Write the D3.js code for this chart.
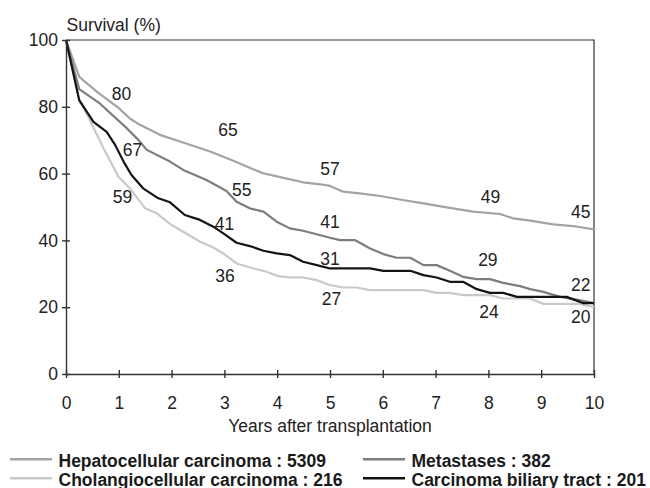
<!DOCTYPE html>
<html>
<head>
<meta charset="utf-8">
<script src="https://cdn.jsdelivr.net/npm/d3@7"></script>
<style>
  body { margin: 0; background: #fff; }
  svg { display: block; font-family: "Liberation Sans", Arial, sans-serif; }
  .axis text { font-size: 17.5px; fill: #222; }
  .axis path, .axis line { stroke: #333; stroke-width: 1.4; }
</style>
</head>
<body>
<svg id="chart" width="650" height="488"></svg>
<script>
// survival curves (years, %)
var hepYears = [0, 0.25, 0.6, 1.0, 1.21, 1.4, 1.78, 2.16, 2.73, 3.1, 3.4, 3.73, 4.1, 4.49, 4.81, 5.0, 5.25, 5.6, 5.95, 6.38, 6.77, 7.21, 7.71, 8.22, 8.47, 8.79, 9.23, 9.6, 10];
var hepVals  = [100, 89, 84.3, 79.6, 76.5, 74.6, 71.6, 69.6, 66.6, 64.3, 62.3, 60.1, 58.8, 57.4, 56.8, 56.3, 54.6, 54.0, 53.3, 52.1, 51.1, 49.9, 48.6, 47.9, 46.6, 45.9, 44.8, 44.3, 43.3];

var metYears = [0, 0.25, 0.64, 1.15, 1.37, 1.53, 1.97, 2.22, 2.66, 3.04, 3.23, 3.48, 3.74, 3.99, 4.24, 4.49, 5.0, 5.19, 5.47, 5.76, 6.01, 6.26, 6.52, 6.77, 7.02, 7.27, 7.52, 7.78, 8.03, 8.28, 8.6, 8.79, 9.04, 9.36, 9.7, 10];
var metVals  = [100, 85.3, 81, 73.6, 70.1, 67.1, 63.6, 61.1, 58.1, 54.8, 51.6, 49.6, 48.6, 45.6, 43.6, 42.9, 40.8, 40.1, 40.1, 37.6, 35.9, 34.8, 34.8, 32.6, 32.6, 30.9, 29.1, 28.4, 28.4, 27.3, 26.3, 25.4, 24.6, 23.1, 22.2, 21.2];

var choYears = [0, 0.25, 0.39, 0.71, 0.99, 1.21, 1.5, 1.72, 2.0, 2.22, 2.54, 2.76, 2.98, 3.23, 3.55, 3.8, 4.02, 4.24, 4.49, 4.75, 5.0, 5.25, 5.5, 5.76, 6.77, 7.02, 7.27, 7.52, 8.03, 8.28, 8.79, 9.04, 9.73, 10];
var choVals  = [100, 82, 78, 67.6, 59.1, 55.6, 49.6, 48.1, 44.6, 42.6, 39.6, 38.1, 36.1, 33.1, 31.6, 30.6, 29.3, 28.9, 28.9, 28.1, 26.6, 25.9, 25.9, 25.1, 25.1, 24.3, 24.3, 23.6, 23.6, 22.6, 22.6, 21.0, 21.0, 20.0];

var bilYears = [0, 0.25, 0.52, 0.77, 0.93, 1.09, 1.24, 1.46, 1.75, 1.97, 2.25, 2.51, 2.79, 2.98, 3.23, 3.48, 3.74, 3.99, 4.24, 4.49, 4.75, 5.0, 5.76, 6.01, 6.52, 6.77, 7.02, 7.27, 7.52, 7.78, 8.03, 8.28, 8.54, 9.48, 9.8, 10];
var bilVals  = [100, 82, 75.5, 72.5, 68.6, 63.6, 59.6, 55.6, 52.6, 51.4, 47.6, 46.3, 44.1, 42.1, 39.3, 38.3, 36.9, 36.1, 35.6, 33.6, 32.6, 31.6, 31.6, 30.9, 30.9, 29.6, 28.9, 27.6, 27.6, 25.4, 24.3, 24.3, 23.1, 23.1, 21.2, 21.2];

var seriesNames = ["Hepatocellular carcinoma : 5309", "Metastases : 382", "Cholangiocellular carcinoma : 216", "Carcinoma biliary tract : 201"];
var seriesColors = ["#a3a3a3", "#7d7d7d", "#c9c9c9", "#141414"];

// value annotations: text, year, % (where the number sits)
var labelText  = ["80", "65", "57", "49", "45", "67", "55", "41", "29", "22", "59", "36", "27", "24", "20", "41", "31"];
var labelYear  = [1.05, 3.07, 5.0, 8.04, 9.75, 1.26, 3.33, 5.0, 7.99, 9.75, 1.07, 3.01, 5.03, 8.01, 9.75, 3.0, 5.0];
var labelPct   = [84.0, 73.1, 61.6, 53.1, 48.6, 67.1, 55.3, 45.6, 34.1, 26.6, 53.1, 29.3, 22.6, 18.6, 17.3, 45.1, 34.4];

var xTicks = [0, 1, 2, 3, 4, 5, 6, 7, 8, 9, 10];
var yTicks = [0, 20, 40, 60, 80, 100];

var svg = d3.select("#chart"),
    margin = {top: 40, right: 56, bottom: 114, left: 66},
    width = 650 - margin.left - margin.right,
    height = 488 - margin.top - margin.bottom;

var g = svg.append("g").attr("transform", "translate(" + margin.left + "," + margin.top + ")");

var x = d3.scaleLinear().domain([0, 10]).range([0, width]);
var y = d3.scaleLinear().domain([0, 100]).range([height, 0]);

// frame (top + right)
g.append("path")
    .attr("d", "M0,0H" + width + "V" + height)
    .attr("fill", "none")
    .attr("stroke", "#333")
    .attr("stroke-width", 1.2);

var series = [
  {years: hepYears, vals: hepVals},
  {years: metYears, vals: metVals},
  {years: choYears, vals: choVals},
  {years: bilYears, vals: bilVals}
];

var line = d3.line()
    .x(function(d) { return x(d[0]); })
    .y(function(d) { return y(d[1]); });

// draw light ones first so the black curve stays on top
[2, 0, 1, 3].forEach(function(i) {
  var s = series[i];
  g.append("path")
      .datum(s.years.map(function(t, j) { return [t, s.vals[j]]; }))
      .attr("fill", "none")
      .attr("stroke", seriesColors[i])
      .attr("stroke-width", 2.2)
      .attr("stroke-linejoin", "round")
      .attr("d", line);
});

g.selectAll(".vlabel")
    .data(labelText)
  .enter().append("text")
    .attr("class", "vlabel")
    .attr("x", function(d, i) { return x(labelYear[i]); })
    .attr("y", function(d, i) { return y(labelPct[i]); })
    .attr("dy", "0.36em")
    .attr("text-anchor", "middle")
    .style("font-size", "17.5px")
    .style("fill", "#222")
    .text(function(d) { return d; });

var yAxis = g.append("g")
    .attr("class", "axis")
    .call(d3.axisLeft(y).tickValues(yTicks).tickSize(4).tickPadding(4).tickSizeOuter(0));
yAxis.selectAll(".tick line").attr("x1", 4);

var xAxis = g.append("g")
    .attr("class", "axis")
    .attr("transform", "translate(0," + height + ")")
    .call(d3.axisBottom(x).tickValues(xTicks).tickSize(4).tickPadding(19).tickSizeOuter(0));
xAxis.selectAll(".tick line").attr("y1", -4);

svg.append("text")
    .attr("x", 66.5)
    .attr("y", 30.5)
    .style("font-size", "17.5px")
    .style("fill", "#222")
    .text("Survival (%)");

svg.append("text")
    .attr("x", margin.left + width / 2)
    .attr("y", 432)
    .attr("text-anchor", "middle")
    .style("font-size", "17.5px")
    .style("fill", "#222")
    .text("Years after transplantation");

// legend, two columns
var legendPos = [[10, 459.3], [363, 459.3], [10, 478.3], [363, 478.3]];
var legendOrder = [0, 1, 2, 3];
legendOrder.forEach(function(i, k) {
  var p = legendPos[k];
  svg.append("line")
      .attr("x1", p[0]).attr("x2", p[0] + 42)
      .attr("y1", p[1]).attr("y2", p[1])
      .attr("stroke", seriesColors[i])
      .attr("stroke-width", 2.4);
  svg.append("text")
      .attr("x", p[0] + 48.5)
      .attr("y", p[1] + 7.8)
      .style("font-size", "17.5px")
      .style("font-weight", "bold")
      .style("fill", "#1a1a1a")
      .text(seriesNames[i]);
});
</script>
</body>
</html>
